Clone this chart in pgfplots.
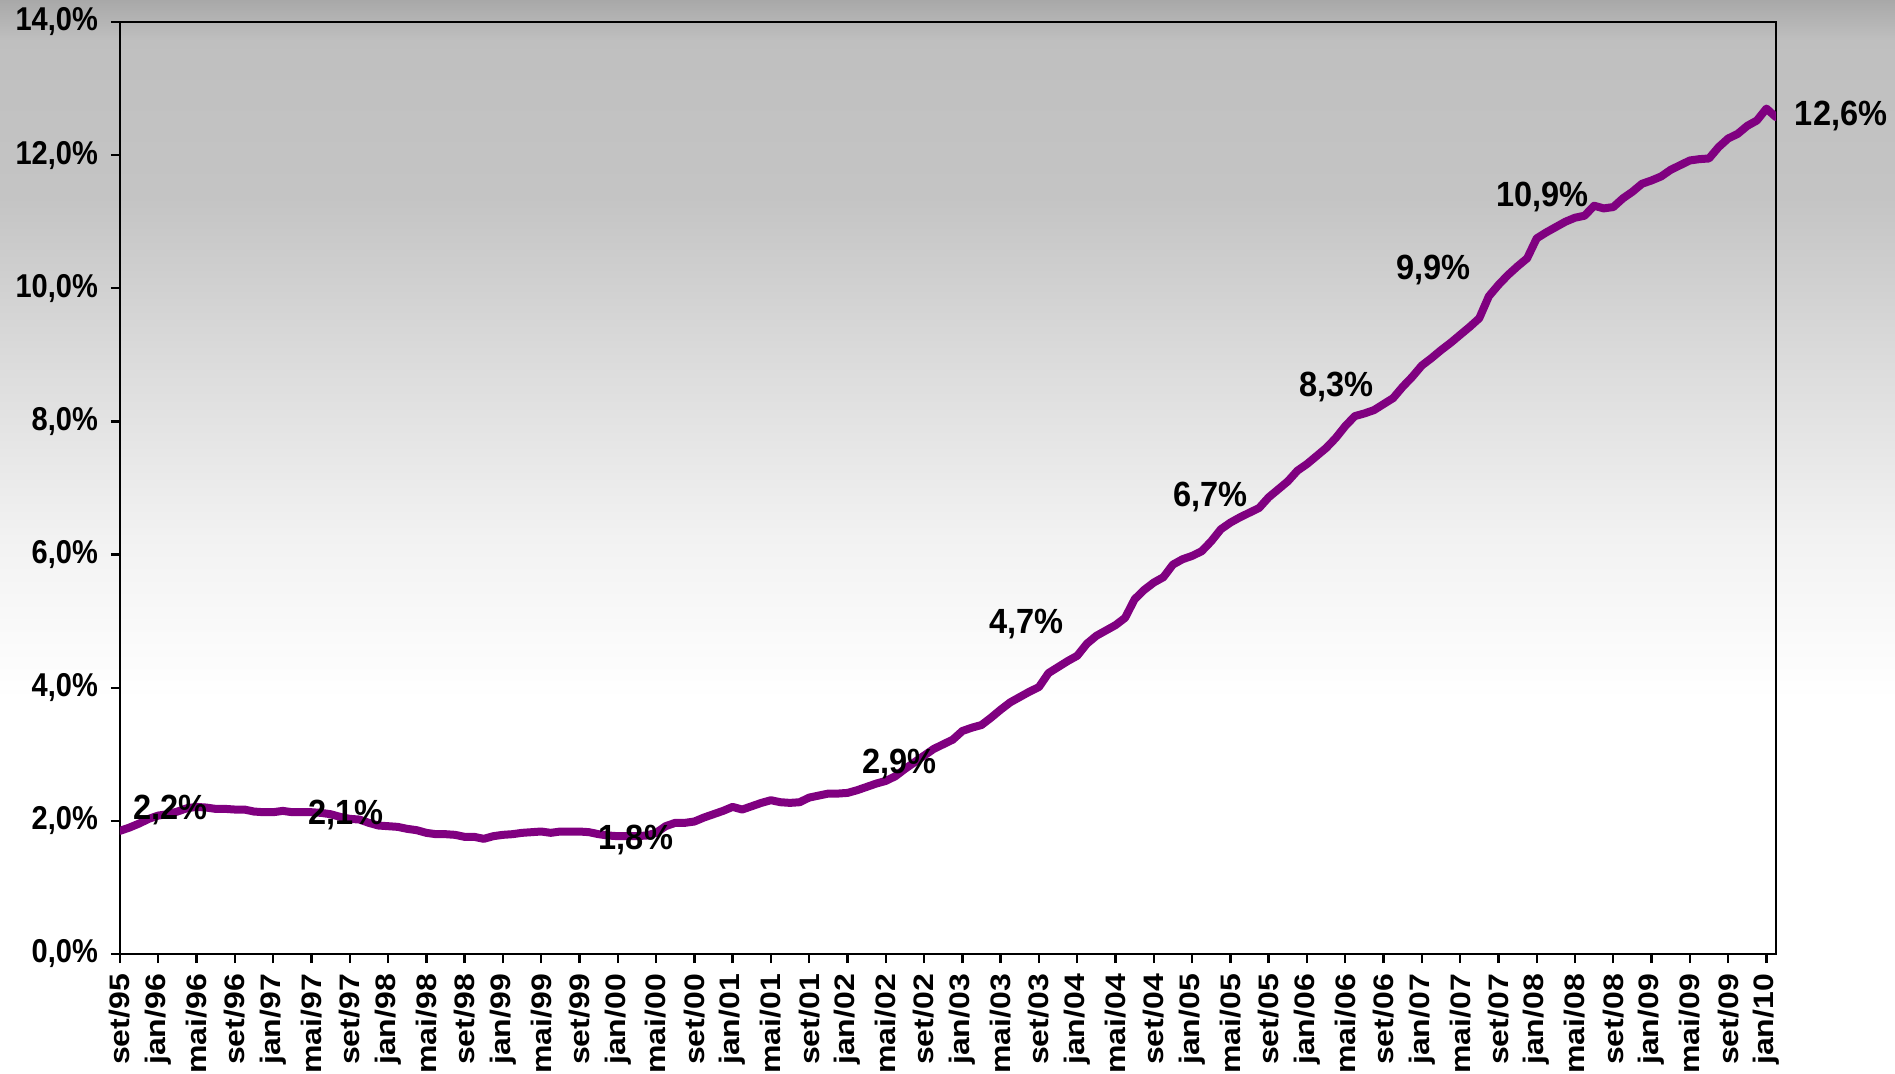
\documentclass[border=0pt]{standalone}
\usepackage{fontspec}
\setmainfont{Liberation Sans}
\usepackage{graphicx}
\usepackage{pgfplots}
\pgfplotsset{compat=1.18}
\usepackage{pgfplotstable}
\definecolor{lineP}{RGB}{128,0,128}
\pgfdeclareverticalshading{bggrad}{100bp}{color(0bp)=(white); color(25bp)=(white); color(42.4bp)=(white); color(49.8bp)=(black!5); color(58.2bp)=(black!14); color(65.7bp)=(black!23); color(73.1bp)=(black!25); color(75bp)=(black!34); color(100bp)=(black!34)}
\newcommand{\hs}[1]{\scalebox{0.88}[1]{#1}}
\newcommand{\vs}[1]{\scalebox{1}[0.88]{#1}}
\newcommand{\dl}[1]{\scalebox{0.93}[1]{#1}}
\pgfplotstableread{
i v
0 1.85
1 1.90
2 1.96
3 2.03
4 2.08
5 2.10
6 2.14
7 2.19
8 2.21
9 2.20
10 2.18
11 2.18
12 2.17
13 2.17
14 2.14
15 2.13
16 2.13
17 2.15
18 2.13
19 2.13
20 2.13
21 2.12
22 2.10
23 2.06
24 2.03
25 2.02
26 1.97
27 1.93
28 1.92
29 1.91
30 1.88
31 1.86
32 1.82
33 1.80
34 1.80
35 1.79
36 1.76
37 1.76
38 1.73
39 1.77
40 1.79
41 1.80
42 1.82
43 1.83
44 1.84
45 1.82
46 1.84
47 1.84
48 1.84
49 1.83
50 1.80
51 1.78
52 1.77
53 1.77
54 1.77
55 1.78
56 1.82
57 1.92
58 1.97
59 1.97
60 1.99
61 2.05
62 2.10
63 2.15
64 2.21
65 2.17
66 2.22
67 2.27
68 2.31
69 2.28
70 2.27
71 2.28
72 2.35
73 2.38
74 2.41
75 2.41
76 2.42
77 2.46
78 2.51
79 2.56
80 2.60
81 2.67
82 2.78
83 2.88
84 2.98
85 3.08
86 3.15
87 3.22
88 3.35
89 3.40
90 3.44
91 3.55
92 3.67
93 3.78
94 3.86
95 3.94
96 4.01
97 4.22
98 4.31
99 4.40
100 4.48
101 4.66
102 4.78
103 4.86
104 4.94
105 5.05
106 5.33
107 5.47
108 5.58
109 5.66
110 5.85
111 5.93
112 5.98
113 6.05
114 6.20
115 6.38
116 6.48
117 6.56
118 6.63
119 6.70
120 6.86
121 6.98
122 7.10
123 7.26
124 7.36
125 7.48
126 7.60
127 7.75
128 7.93
129 8.08
130 8.12
131 8.17
132 8.26
133 8.35
134 8.52
135 8.67
136 8.84
137 8.95
138 9.07
139 9.18
140 9.30
141 9.42
142 9.55
143 9.88
144 10.05
145 10.20
146 10.33
147 10.45
148 10.75
149 10.84
150 10.92
151 11.00
152 11.06
153 11.09
154 11.24
155 11.20
156 11.22
157 11.35
158 11.45
159 11.57
160 11.62
161 11.68
162 11.78
163 11.85
164 11.92
165 11.94
166 11.95
167 12.12
168 12.25
169 12.32
170 12.44
171 12.52
172 12.70
173 12.57
}\series
\begin{document}
\begin{tikzpicture}
\shade[shading=bggrad] (-60pt,-59.5pt) rectangle (887.5pt,477pt);
\begin{axis}[
  at={(0pt,0pt)}, anchor=south west,
  scale only axis, width=828pt, height=466pt,
  xmin=0, xmax=173, ymin=0, ymax=14,
  clip mode=individual,
  axis line style={line width=1.2pt, black},
  tick align=outside, tick pos=left,
  major tick length=4.5pt,
  every tick/.style={black, line width=1.2pt},
  xtick={0,4,...,172},
  xticklabels={\vs{set/95},\vs{jan/96},\vs{mai/96},\vs{set/96},\vs{jan/97},\vs{mai/97},\vs{set/97},\vs{jan/98},\vs{mai/98},\vs{set/98},\vs{jan/99},\vs{mai/99},\vs{set/99},\vs{jan/00},\vs{mai/00},\vs{set/00},\vs{jan/01},\vs{mai/01},\vs{set/01},\vs{jan/02},\vs{mai/02},\vs{set/02},\vs{jan/03},\vs{mai/03},\vs{set/03},\vs{jan/04},\vs{mai/04},\vs{set/04},\vs{jan/05},\vs{mai/05},\vs{set/05},\vs{jan/06},\vs{mai/06},\vs{set/06},\vs{jan/07},\vs{mai/07},\vs{set/07},\vs{jan/08},\vs{mai/08},\vs{set/08},\vs{jan/09},\vs{mai/09},\vs{set/09},\vs{jan/10}},
  xticklabel style={rotate=90, anchor=east, font=\fontsize{16}{16}\selectfont\bfseries, xshift=-2pt},
  ytick={0,2,...,14},
  yticklabels={\hs{0,0\%},\hs{2,0\%},\hs{4,0\%},\hs{6,0\%},\hs{8,0\%},\hs{10,0\%},\hs{12,0\%},\hs{14,0\%}},
  yticklabel style={anchor=east, font=\fontsize{16.5}{16.5}\selectfont\bfseries, xshift=-3pt},
]
\addplot[color=lineP, line width=4pt, line join=round, line cap=round, no marks] table[x=i, y=v] {\series};
\begin{scope}[every node/.style={font=\fontsize{17.5}{17.5}\selectfont\bfseries, text=black}]
\node at (axis cs:5.3,2.16) {\dl{2,2\%}};
\node at (axis cs:23.6,2.09) {\dl{2,1\%}};
\node at (axis cs:53.9,1.72) {\dl{1,8\%}};
\node at (axis cs:81.4,2.85) {\dl{2,9\%}};
\node at (axis cs:94.7,4.95) {\dl{4,7\%}};
\node at (axis cs:113.9,6.87) {\dl{6,7\%}};
\node at (axis cs:127.1,8.52) {\dl{8,3\%}};
\node at (axis cs:137.2,10.28) {\dl{9,9\%}};
\node at (axis cs:148.6,11.37) {\dl{10,9\%}};
\node at (axis cs:179.8,12.59) {\dl{12,6\%}};
\end{scope}
\end{axis}
\pgfresetboundingbox
\path[use as bounding box] (-60pt,-59.5pt) rectangle (887.5pt,477pt);
\end{tikzpicture}
\end{document}
